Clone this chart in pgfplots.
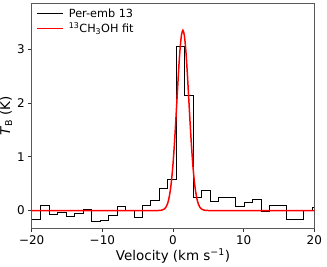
\documentclass[border=0pt]{standalone}
\usepackage{fontspec}
\setmainfont{DejaVu Sans}
\usepackage{pgfplots}
\pgfplotsset{compat=1.18}
\begin{document}
\begin{tikzpicture}
\begin{axis}[
  name=ax,
  scale only axis,
  width=282.6bp, height=225bp,
  xmin=-20, xmax=20, ymin=-0.33, ymax=3.85,
  xtick={-20,-10,0,10,20},
  xticklabels={−20,−10,0,10,20},
  ytick={0,1,2,3},
  yticklabels={0,1,2,3},
  tick align=outside,
  xtick pos=bottom, ytick pos=left,
  major tick length=3.5bp,
  every tick/.style={black!80, line width=0.6pt},
  axis line style={black!65, line width=0.7pt},
  tick label style={font=\fontsize{12}{14}\selectfont},
  label style={font=\fontsize{13.5}{16}\selectfont},
  xlabel={Velocity (km s\textsuperscript{−1})},
  ylabel={\textit{T}\textsubscript{B} (K)},
  xlabel style={yshift=3bp},
  ylabel style={yshift=-2bp},
  legend style={at={(axis description cs:0,1)}, anchor=north west, draw=none, fill=none,
    xshift=3.5bp, yshift=-2bp,
    font=\fontsize{11.3}{13}\selectfont, inner sep=1pt, row sep=0.5pt, column sep=3bp},
  legend cell align=left,
  legend image code/.code={\draw[#1] (0bp,0bp) -- (26bp,0bp);},
]
\addplot[const plot, black, line width=0.8pt] coordinates {
(-20,-0.17) (-18.73,0.09) (-17.53,-0.08) (-16.33,-0.04) (-15.13,-0.10) (-13.93,-0.06)
(-12.73,0.02) (-11.53,-0.20) (-10.33,-0.19) (-9.13,-0.09) (-7.93,0.07) (-6.73,0.00)
(-5.53,-0.12) (-4.33,0.09) (-3.13,0.18) (-1.93,0.42) (-0.73,0.58) (0.47,3.04)
(1.67,2.13) (2.87,0.24) (4.07,0.37) (5.27,0.17) (6.47,0.24) (7.67,0.24)
(8.87,0.07) (10.07,0.15) (11.27,0.21) (12.47,-0.01) (13.67,0.09) (14.87,0.09)
(16.07,-0.16) (17.27,-0.16) (18.47,0.00) (19.67,0.05) (20,0.05)
};
\addlegendentry{Per-emb 13}
\addplot[red, line width=1.5pt, smooth] coordinates {
(-20,0) (-4,0) (-2.0,0.0011) (-1.6,0.0066) (-1.2,0.0311) (-1.0,0.0622) (-0.8,0.1176)
(-0.6,0.2103) (-0.4,0.3558) (-0.2,0.5696) (0.0,0.863) (0.2,1.237) (0.4,1.677)
(0.6,2.151) (0.8,2.611) (1.0,2.999) (1.2,3.259) (1.4,3.35) (1.6,3.259) (1.8,2.999)
(2.0,2.611) (2.2,2.151) (2.4,1.677) (2.6,1.237) (2.8,0.863) (3.0,0.5696) (3.2,0.3558)
(3.4,0.2103) (3.6,0.1176) (3.8,0.0622) (4.0,0.0311) (4.4,0.0066) (4.8,0.0011) (6.8,0) (20,0)
};
\addlegendentry{\textsuperscript{13}CH\textsubscript{3}OH fit}
\end{axis}
\pgfresetboundingbox
\path[use as bounding box] ([xshift=-31.7bp,yshift=-38.7bp]ax.south west) rectangle ([xshift=12.7bp,yshift=3.3bp]ax.north east);
\end{tikzpicture}
\end{document}
